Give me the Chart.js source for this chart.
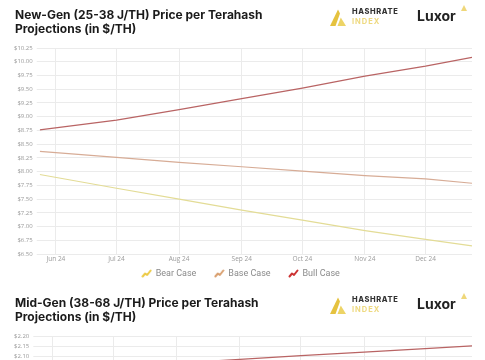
<!DOCTYPE html>
<html><head><meta charset="utf-8">
<script src="https://cdn.jsdelivr.net/npm/chart.js@4"></script>
<style>
html,body{margin:0;padding:0;background:#fff;width:485px;height:360px;overflow:hidden;}
.sec{position:absolute;left:0;width:485px;height:288px;}
.title{position:absolute;left:15px;top:8px;font:700 12px/13.5px Inter,sans-serif;color:#1b1b1b;white-space:nowrap;}
.hr{position:absolute;left:352px;top:8px;font:800 7.5px/7.5px Inter,sans-serif;letter-spacing:0.6px;color:#333;}
.idx{position:absolute;left:352px;top:18px;font:700 7.5px/7.5px Inter,sans-serif;letter-spacing:1px;color:#eed97f;}
.lux{position:absolute;left:417px;top:8px;font:700 14px/16px Inter,sans-serif;color:#222;}
.tri{position:absolute;left:461px;top:5px;}
.icon{position:absolute;left:330px;top:9px;}
canvas{position:absolute;left:0;top:0;}
</style></head>
<body>
<div class="sec" id="s1" style="top:0">
  <canvas id="c1" width="485" height="290"></canvas>
  <div class="title">New-Gen (25-38 J/TH) Price per Terahash<br>Projections (in $/TH)</div>
  <svg class="icon" width="18" height="18" viewBox="0 0 18 18"><polygon points="0,17 8,0.5 10,4.5 5.5,17" fill="#e5c23f"/><polygon points="7.5,17 10.8,8.5 16,17" fill="#edd466"/></svg>
  <div class="hr">HASHRATE</div><div class="idx">INDEX</div>
  <div class="lux">Luxor</div>
  <svg class="tri" width="6" height="6" viewBox="0 0 6 6"><polygon points="0,6 3,0 6,6" fill="#efd77a"/></svg>
</div>
<div class="sec" id="s2" style="top:288px">
  <canvas id="c2" width="485" height="290"></canvas>
  <div class="title">Mid-Gen (38-68 J/TH) Price per Terahash<br>Projections (in $/TH)</div>
  <svg class="icon" width="18" height="18" viewBox="0 0 18 18"><polygon points="0,17 8,0.5 10,4.5 5.5,17" fill="#e5c23f"/><polygon points="7.5,17 10.8,8.5 16,17" fill="#edd466"/></svg>
  <div class="hr">HASHRATE</div><div class="idx">INDEX</div>
  <div class="lux">Luxor</div>
  <svg class="tri" width="6" height="6" viewBox="0 0 6 6"><polygon points="0,6 3,0 6,6" fill="#efd77a"/></svg>
</div>
<script>
// x positions: days since 24 May 2024
const monthLabels = ['Jun 24','Jul 24','Aug 24','Sep 24','Oct 24','Nov 24','Dec 24'];
const monthDays   = [8, 38, 69, 100, 130, 161, 191];
const pointDays   = [0, 38, 69, 100, 130, 161, 191, 214];
const seriesNames = ['Bear Case','Base Case','Bull Case'];

const newBear = [7.95, 7.70, 7.50, 7.30, 7.12, 6.93, 6.77, 6.65];
const newBase = [8.37, 8.26, 8.17, 8.09, 8.01, 7.93, 7.87, 7.79];
const newBull = [8.76, 8.94, 9.13, 9.33, 9.52, 9.74, 9.92, 10.08];

const midBear = [1.86, 1.80, 1.74, 1.69, 1.64, 1.59, 1.55, 1.52];
const midBase = [1.97, 1.95, 1.93, 1.92, 1.90, 1.89, 1.88, 1.87];
const midBull = [2.03, 2.052, 2.069, 2.087, 2.105, 2.122, 2.139, 2.152];

const newAxis = {min: 6.5, max: 10.25, step: 0.25};
const midAxis = {min: 1.2, max: 2.2, step: 0.05};

const lineColors = ['#e3dc96', '#d7ac96', '#b96464'];
const iconColors = ['#ecca45', '#d9a070', '#cc3333'];

function icon(color){
  const c = document.createElement('canvas'); c.width = 11; c.height = 9;
  const g = c.getContext('2d');
  g.strokeStyle = color; g.lineWidth = 2; g.lineJoin = 'round'; g.lineCap = 'round';
  g.beginPath(); g.moveTo(1.5,7.5); g.lineTo(4,4.5); g.lineTo(6,6); g.lineTo(9.5,1.5); g.stroke();
  return c;
}

function make(id, axis, series){
  const datasets = series.map((vals, k) => ({
    label: seriesNames[k],
    data: pointDays.map((d,i) => ({x: d, y: vals[i]})),
    borderColor: lineColors[k], backgroundColor: lineColors[k],
    borderWidth: 1.2, pointRadius: 0, pointStyle: icon(iconColors[k]), tension: 0
  }));
  new Chart(document.getElementById(id), {
    type: 'line',
    data: {datasets},
    options: {
      responsive: false, animation: false, devicePixelRatio: 1,
      layout: {padding: {top: 48, left: 10, right: 13, bottom: 2}},
      plugins: {
        legend: {position: 'bottom', labels: {
          usePointStyle: true, padding: 5, font: {family: 'Roboto', size: 9}, color: '#8a8a8a',
          generateLabels: chart => {
            const items = Chart.defaults.plugins.legend.labels.generateLabels(chart);
            items.forEach((it, i) => { if (i < items.length - 1) it.text = it.text + '      '; });
            return items;
          }
        }},
        tooltip: {enabled: false}
      },
      scales: {
        x: {type: 'linear', min: 0, max: 214,
            afterBuildTicks: a => { a.ticks = monthDays.map(v => ({value: v})); },
            ticks: {callback: (v, i) => monthLabels[i], font: {family: 'Open Sans', size: 6.5}, color: '#9a9a9a', padding: 1, autoSkip: false, maxRotation: 0},
            grid: {color: '#ebebeb', tickLength: 0, drawTicks: false}, border: {display: false}},
        y: {min: axis.min, max: axis.max,
            ticks: {stepSize: axis.step, callback: v => '$' + Number(v).toFixed(2), font: {family: 'Open Sans', size: 6}, color: '#9a9a9a', padding: 4, autoSkip: false},
            grid: {color: '#ebebeb', tickLength: 3}, border: {display: false}}
      }
    }
  });
}
make('c1', newAxis, [newBear, newBase, newBull]);
make('c2', midAxis, [midBear, midBase, midBull]);
</script>
</body></html>
